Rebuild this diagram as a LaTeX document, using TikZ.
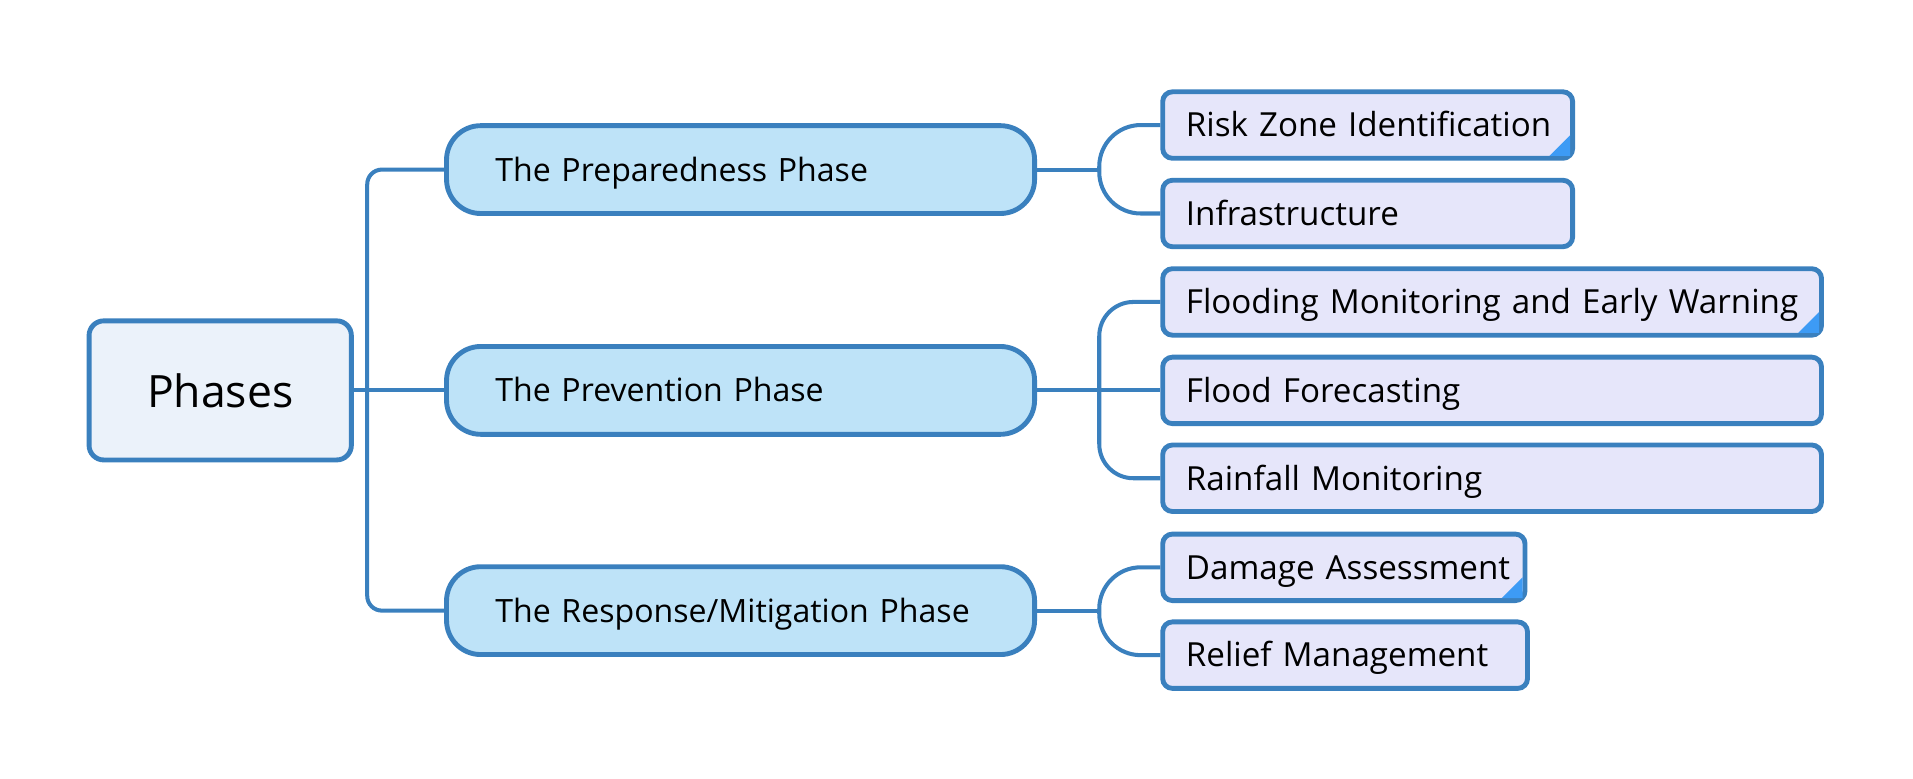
\documentclass[tikz,border=0pt]{standalone}
\usepackage{fontspec}
\setmainfont{Open Sans}
\definecolor{mapline}{RGB}{58,128,190}
\definecolor{rootfill}{RGB}{235,242,250}
\definecolor{phasefill}{RGB}{190,227,248}
\definecolor{leaffill}{RGB}{230,230,250}
\definecolor{notemark}{RGB}{61,155,245}

\begin{document}
\begin{tikzpicture}[x=1pt, y=-1pt,
    nowrap/.style={execute at begin node={\rightskip=0pt minus 100pt}},
    root/.style={rectangle, draw=mapline, line width=4pt, fill=rootfill, rounded corners=12pt,
        minimum width=215pt, minimum height=114pt, font=\fontsize{36.5}{40}\selectfont},
    phase/.style={rectangle, draw=mapline, line width=4pt, fill=phasefill, rounded corners=28pt, anchor=west,
        text width=402pt, inner xsep=40pt, minimum height=72pt, text height=18.8pt, text depth=0pt,
        align=left, nowrap, font=\fontsize{26.3}{30}\selectfont},
    leaf/.style={rectangle, draw=mapline, line width=4pt, fill=leaffill, rounded corners=8pt, anchor=west,
        text width=#1, inner xsep=19pt, minimum height=54.5pt, text height=19.4pt, text depth=0pt,
        align=left, nowrap, font=\fontsize{27.2}{30}\selectfont},
    link/.style={draw=mapline, line width=3.3pt},
    notecorner/.style={fill=notemark}]
    \useasboundingbox (0,0) rectangle (1568,638.5);

    \node[root] (root) at (180.5,320) {Phases};

    \node[phase] (prep) at (364,139) {The Preparedness Phase};
    \node[phase] (prev) at (364,320) {The Prevention Phase};
    \node[phase] (resp) at (364,500.5) {The Response/Mitigation Phase};

    \node[leaf=298pt] (risk) at (951,102.5) {Risk Zone Identification};
    \node[leaf=298pt] (infra) at (951,175) {Infrastructure};
    \node[leaf=502pt] (flood) at (951,247.5) {Flooding Monitoring and Early Warning};
    \node[leaf=502pt] (cast) at (951,320) {Flood Forecasting};
    \node[leaf=502pt] (rain) at (951,392) {Rainfall Monitoring};
    \node[leaf=259pt] (damage) at (951,465) {Damage Assessment};
    \node[leaf=261pt] (relief) at (951,537) {Relief Management};

    \coordinate (trunk) at (301,320);
    \coordinate (prepfork) at (901,139);
    \coordinate (prevfork) at (901,320);
    \coordinate (respfork) at (901,500.5);

    \draw[link] (root.east) -- (prev.west);
    \draw[link, rounded corners=12pt] (prep.west) -| (trunk |- resp.west) -- (resp.west);

    \draw[link] (prep.east) -- (prepfork);
    \draw[link, rounded corners=34pt] (risk.west) -| (prepfork |- infra.west) -- (infra.west);
    \draw[link] (prev.east) -- (cast.west);
    \draw[link, rounded corners=28pt] (flood.west) -| (prevfork |- rain.west) -- (rain.west);
    \draw[link] (resp.east) -- (respfork);
    \draw[link, rounded corners=34pt] (damage.west) -| (respfork |- relief.west) -- (relief.west);

    \foreach \n in {risk, flood, damage}
        \fill[notecorner] ([xshift=-4pt, yshift=4pt]\n.south east) -- ++(-17,0) -- ++(17,-17) -- cycle;
\end{tikzpicture}
\end{document}
